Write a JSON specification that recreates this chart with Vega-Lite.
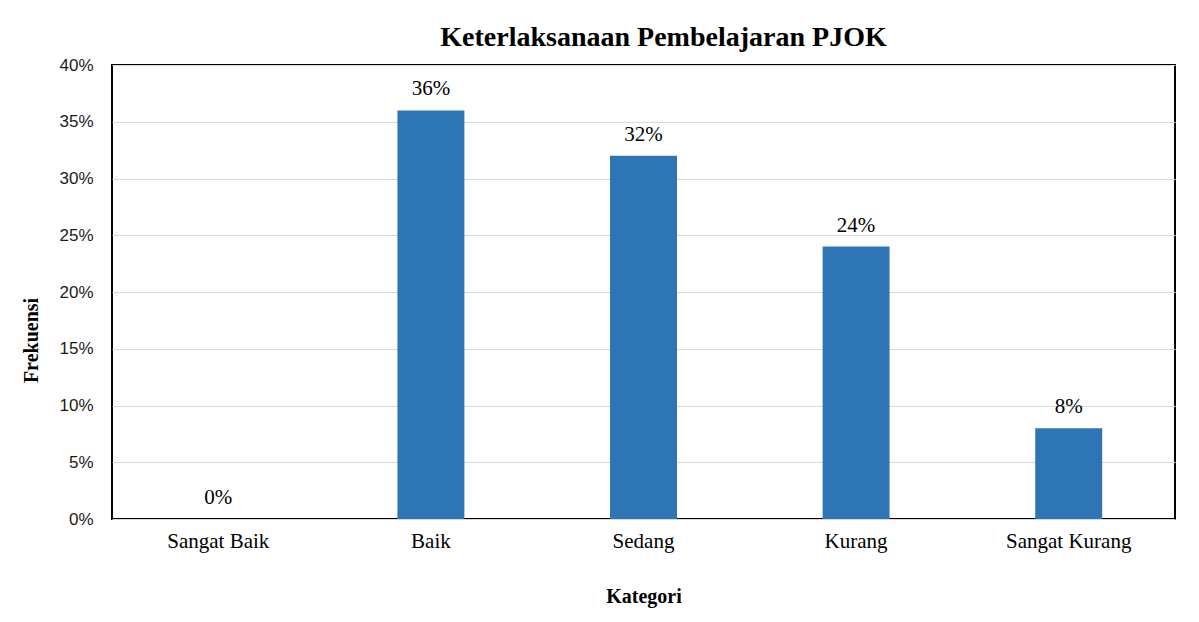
{
  "$schema": "https://vega.github.io/schema/vega-lite/v6.json",
  "autosize": "none",
  "width": 1063,
  "height": 454,
  "padding": {"left": 112, "top": 65, "right": 24, "bottom": 103},
  "background": "#ffffff",
  "title": {
    "text": "Keterlaksanaan Pembelajaran PJOK",
    "font": "Liberation Serif",
    "fontSize": 28,
    "fontWeight": "bold",
    "color": "#000000",
    "anchor": "middle",
    "baseline": "alphabetic",
    "offset": 18,
    "dx": 20,
    "dy": 36
  },
  "data": {
    "values": [
      {"kategori": "Sangat Baik", "frekuensi": 0},
      {"kategori": "Baik", "frekuensi": 0.36},
      {"kategori": "Sedang", "frekuensi": 0.32},
      {"kategori": "Kurang", "frekuensi": 0.24},
      {"kategori": "Sangat Kurang", "frekuensi": 0.08}
    ]
  },
  "encoding": {
    "x": {
      "field": "kategori",
      "type": "nominal",
      "sort": null,
      "scale": {"paddingInner": 0.685, "paddingOuter": 0.3425},
      "axis": {
        "title": "Kategori",
        "titleFont": "Liberation Serif",
        "titleFontSize": 20,
        "titleFontWeight": "bold",
        "titleColor": "#000000",
        "titleBaseline": "alphabetic",
        "titleY": 83,
        "labelFont": "Liberation Serif",
        "labelFontSize": 21,
        "labelColor": "#000000",
        "labelAngle": 0,
        "labelPadding": 11,
        "ticks": false,
        "domain": false
      }
    },
    "y": {
      "field": "frekuensi",
      "type": "quantitative",
      "scale": {"domain": [0, 0.4]},
      "axis": {
        "title": "Frekuensi",
        "titleFont": "Liberation Serif",
        "titleFontSize": 20,
        "titleFontWeight": "bold",
        "titleColor": "#000000",
        "titleX": -81,
        "titleY": 275,
        "titleAngle": -90,
        "titleBaseline": "middle",
        "titleAlign": "center",
        "values": [0, 0.05, 0.1, 0.15, 0.2, 0.25, 0.3, 0.35, 0.4],
        "format": ".0%",
        "labelFont": "Liberation Sans",
        "labelFontSize": 17,
        "labelColor": "#1a1a1a",
        "labelPadding": 19,
        "ticks": false,
        "domain": false,
        "grid": true,
        "gridColor": "#d9d9d9",
        "gridWidth": 1
      }
    }
  },
  "layer": [
    {"mark": {"type": "bar", "color": "#2e75b6"}},
    {
      "mark": {
        "type": "text",
        "font": "Liberation Serif",
        "fontSize": 21,
        "color": "#000000",
        "baseline": "alphabetic",
        "dy": -15
      },
      "encoding": {"text": {"field": "frekuensi", "type": "quantitative", "format": ".0%"}}
    }
  ],
  "config": {
    "view": {"stroke": "#000000", "strokeWidth": 2}
  }
}
